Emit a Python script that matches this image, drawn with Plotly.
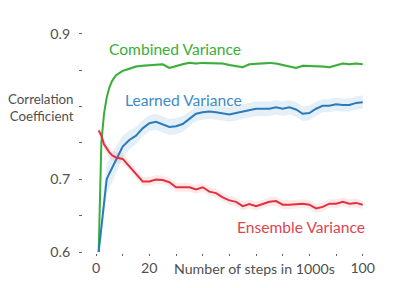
import plotly.graph_objects as go

steps = [1, 2, 3, 4, 5, 6, 7.5, 10, 12.5, 15, 17.5, 20, 22.5, 25, 27.5, 30, 32.5, 35, 37.5, 40,
         42.5, 45, 47.5, 50, 52.5, 55, 57.5, 60, 62.5, 65, 67.5, 70, 72.5, 75, 77.5, 80,
         82.5, 85, 87.5, 90, 92.5, 95, 97.5, 100]

combined = [0.600, 0.750, 0.790, 0.812, 0.826, 0.835, 0.843, 0.849, 0.852, 0.855, 0.856, 0.857,
            0.857, 0.858, 0.853, 0.856, 0.858, 0.860, 0.859, 0.860, 0.860, 0.859, 0.859, 0.857,
            0.855, 0.854, 0.858, 0.859, 0.860, 0.860, 0.859, 0.857, 0.855, 0.853, 0.856, 0.856,
            0.855, 0.855, 0.854, 0.857, 0.859, 0.858, 0.859, 0.858]
combined_err = [0.0, 0.003, 0.003, 0.002, 0.002, 0.002, 0.002, 0.002, 0.002, 0.002, 0.002, 0.002,
                0.002, 0.002, 0.002, 0.002, 0.002, 0.002, 0.002, 0.002, 0.002, 0.002, 0.002, 0.002,
                0.002, 0.002, 0.002, 0.002, 0.002, 0.002, 0.002, 0.002, 0.002, 0.002, 0.002, 0.002,
                0.002, 0.002, 0.002, 0.002, 0.002, 0.002, 0.002, 0.002]

learned = [0.600, 0.635, 0.670, 0.700, 0.708, 0.715, 0.727, 0.745, 0.754, 0.760, 0.770, 0.777,
           0.779, 0.776, 0.772, 0.773, 0.776, 0.783, 0.790, 0.792, 0.793, 0.792, 0.790, 0.789,
           0.791, 0.793, 0.796, 0.797, 0.797, 0.797, 0.799, 0.797, 0.799, 0.796, 0.790, 0.791,
           0.797, 0.801, 0.801, 0.803, 0.802, 0.802, 0.805, 0.806]
learned_err = [0.0, 0.015, 0.02, 0.02, 0.02, 0.02, 0.018, 0.015, 0.013, 0.012, 0.011, 0.011,
               0.011, 0.011, 0.011, 0.011, 0.011, 0.010, 0.010, 0.010, 0.010, 0.010, 0.010, 0.010,
               0.010, 0.010, 0.010, 0.010, 0.010, 0.010, 0.010, 0.010, 0.010, 0.010, 0.010, 0.010,
               0.010, 0.009, 0.009, 0.009, 0.009, 0.009, 0.009, 0.009]

ensemble = [0.767, 0.760, 0.748, 0.742, 0.737, 0.733, 0.730, 0.728, 0.718, 0.707, 0.697, 0.697,
            0.6995, 0.699, 0.696, 0.689, 0.689, 0.689, 0.686, 0.689, 0.683, 0.681, 0.675, 0.671,
            0.669, 0.663, 0.666, 0.663, 0.666, 0.669, 0.670, 0.665, 0.665, 0.666, 0.6665, 0.665,
            0.660, 0.662, 0.6665, 0.6665, 0.669, 0.6665, 0.6675, 0.665]
ensemble_err = [0.004, 0.006, 0.007, 0.007, 0.007, 0.007, 0.007, 0.007, 0.006, 0.006, 0.006, 0.006,
                0.006, 0.006, 0.006, 0.006, 0.006, 0.006, 0.006, 0.006, 0.006, 0.006, 0.006, 0.006,
                0.006, 0.006, 0.006, 0.006, 0.006, 0.006, 0.006, 0.006, 0.006, 0.006, 0.006, 0.006,
                0.006, 0.006, 0.006, 0.006, 0.006, 0.006, 0.006, 0.006]

series = [
    ("Combined Variance", combined, combined_err, "#3aae3a", "rgba(58,174,58,0.15)"),
    ("Learned Variance", learned, learned_err, "#2b7bba", "rgba(43,123,186,0.12)"),
    ("Ensemble Variance", ensemble, ensemble_err, "#e2313f", "rgba(226,49,63,0.10)"),
]

x_tickvals = [0, 10, 20, 30, 40, 50, 60, 70, 80, 90, 100]
x_ticktext = ["0", "", "20", "", "", "", "", "", "", "", "100"]
y_tickvals = [0.6, 0.65, 0.7, 0.75, 0.8, 0.85, 0.9]
y_ticktext = ["0.6", "", "0.7", "", "", "", "0.9"]

FONT = "Lato"
AX = 14.2
LAB = 15.6
TXT = "#505050"

fig = go.Figure()
for name, vals, err, color, fillc in series:
    lo = [v - e for v, e in zip(vals, err)]
    hi = [v + e for v, e in zip(vals, err)]
    fig.add_trace(go.Scatter(x=steps, y=lo, mode="lines", line=dict(width=0),
                             showlegend=False, hoverinfo="skip"))
    fig.add_trace(go.Scatter(x=steps, y=hi, mode="lines", line=dict(width=0),
                             fill="tonexty", fillcolor=fillc, showlegend=False, hoverinfo="skip"))
for name, vals, err, color, fillc in series:
    fig.add_trace(go.Scatter(x=steps, y=vals, mode="lines", name=name,
                             line=dict(color=color, width=2), showlegend=False))

# page body has an 8px margin, so the figure is 8px smaller and margins shifted
fig.update_layout(
    width=407, height=280,
    margin=dict(l=75, r=44, t=17, b=32),
    paper_bgcolor="white", plot_bgcolor="white",
    font=dict(family=FONT, size=AX, color=TXT),
    xaxis=dict(range=[-4.875, 103.1], tickvals=x_tickvals, ticktext=x_ticktext,
               showgrid=False, zeroline=False, showline=False,
               ticks="outside", ticklen=2, tickwidth=1, tickcolor="#666",
               tickfont=dict(size=AX, color=TXT)),
    yaxis=dict(range=[0.59864, 0.91208], tickvals=y_tickvals, ticktext=y_ticktext,
               showgrid=False, zeroline=False, showline=False,
               ticks="outside", ticklen=3, tickwidth=1, tickcolor="#666",
               tickfont=dict(size=AX, color=TXT), ticklabelstandoff=6),
)

fig.add_annotation(x=29.6, y=0.8795, text="Combined Variance", showarrow=False,
                   font=dict(color="#3aae3a", size=LAB))
fig.add_annotation(x=32.8, y=0.8094, text="Learned Variance", showarrow=False,
                   font=dict(color="#3d8ac8", size=LAB))
fig.add_annotation(x=76.8, y=0.6349, text="Ensemble Variance", showarrow=False,
                   font=dict(color="#e04452", size=LAB))
fig.add_annotation(x=59.4, y=-0.069, yref="paper", yanchor="middle", text="Number of steps in 1000s",
                   showarrow=False, font=dict(color=TXT, size=AX))
fig.add_annotation(x=-0.0243, xref="paper", xanchor="right", y=0.798, yref="y",
                   text="Correlation<br>Coefficient", align="right", showarrow=False,
                   font=dict(color=TXT, size=13.3))

fig.write_html("out.html")
